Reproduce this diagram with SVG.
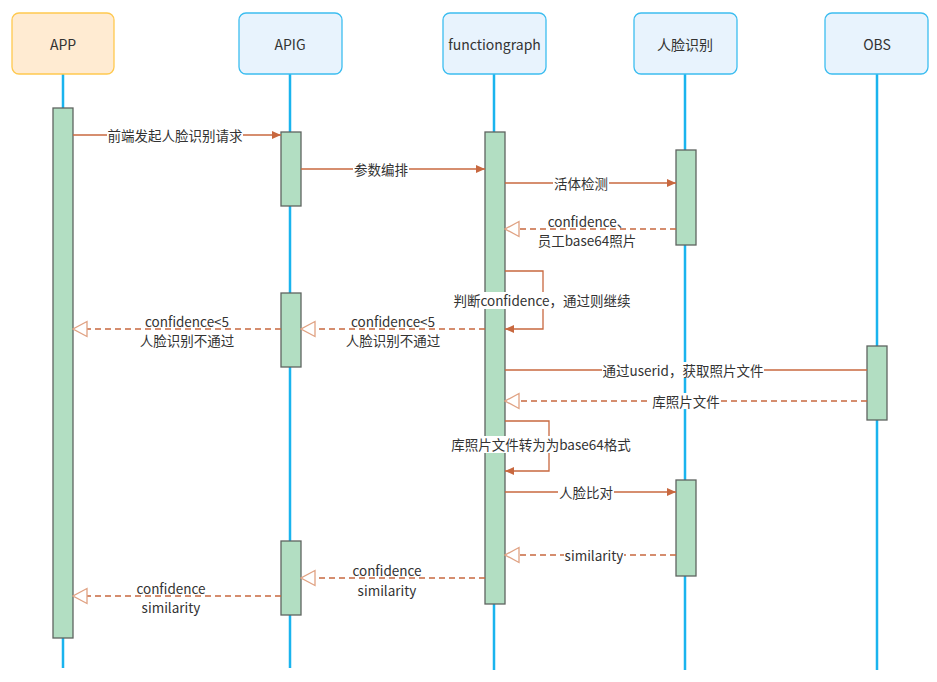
<svg xmlns="http://www.w3.org/2000/svg" width="937" height="682" viewBox="0 0 937 682">
<style>
text{font-family:"Noto Sans CJK SC","Noto Sans",sans-serif;font-size:13.5px;fill:#333;text-anchor:middle;dominant-baseline:central}
.hdr{font-size:14px}
.life{stroke:#1ab4ee;stroke-width:2.5;fill:none}
.act{fill:#b2dec2;stroke:#5f6460;stroke-width:1.3}
.msg{stroke:#c8683f;stroke-width:1.3;fill:none}
.ret{stroke:#c8683f;stroke-width:1.3;fill:none;stroke-dasharray:6 4}
.bg{fill:#fff}
</style>
<defs>
<marker id="fa" markerUnits="userSpaceOnUse" markerWidth="10" markerHeight="10" refX="9" refY="5" orient="auto"><path d="M0,1 L9,5 L0,9 z" fill="#c8683f"/></marker>
<marker id="oa" markerUnits="userSpaceOnUse" markerWidth="16" markerHeight="18" refX="15" refY="9" orient="auto"><path d="M1,1.5 L15,9 L1,16.5 z" fill="#fff" stroke="#e0a283" stroke-width="1.3"/></marker>
</defs>
<g id="lifelines">
<line class="life" x1="63" y1="74" x2="63" y2="668"/>
<line class="life" x1="290" y1="74" x2="290" y2="668"/>
<line class="life" x1="494" y1="74" x2="494" y2="670"/>
<line class="life" x1="685" y1="74" x2="685" y2="670"/>
<line class="life" x1="877" y1="74" x2="877" y2="670"/>
</g>
<g id="APP"><rect x="12" y="13" width="102" height="61" rx="7" fill="#ffebd2" stroke="#ffc94f" stroke-width="1.3"/><text class="hdr" x="63" y="44">APP</text></g>
<g id="APIG"><rect x="239" y="13" width="103" height="61" rx="7" fill="#e8f3fd" stroke="#3cbdf0" stroke-width="1.3"/><text class="hdr" x="290" y="44">APIG</text></g>
<g id="functiongraph"><rect x="443" y="13" width="103" height="61" rx="7" fill="#e8f3fd" stroke="#3cbdf0" stroke-width="1.3"/><text class="hdr" x="494.5" y="44">functiongraph</text></g>
<g id="face"><rect x="634" y="13" width="103" height="61" rx="7" fill="#e8f3fd" stroke="#3cbdf0" stroke-width="1.3"/><text class="hdr" x="685" y="44">人脸识别</text></g>
<g id="OBS"><rect x="825" y="13" width="103" height="61" rx="7" fill="#e8f3fd" stroke="#3cbdf0" stroke-width="1.3"/><text class="hdr" x="877" y="44">OBS</text></g>
<g id="activations">
<rect class="act" x="53" y="108" width="20" height="530"/>
<rect class="act" x="281" y="132" width="20" height="74"/>
<rect class="act" x="281" y="293" width="20" height="74"/>
<rect class="act" x="281" y="541" width="20" height="74"/>
<rect class="act" x="485" y="132" width="20" height="472"/>
<rect class="act" x="676" y="150" width="20" height="95"/>
<rect class="act" x="676" y="480" width="20" height="96"/>
<rect class="act" x="867" y="346" width="20" height="74"/>
</g>
<g id="connectors">
<line class="msg" x1="73" y1="135" x2="281" y2="135" marker-end="url(#fa)"/>
<rect class="bg" x="107" y="127" width="136" height="16"/><text x="175" y="135">前端发起人脸识别请求</text>
<line class="msg" x1="301" y1="169" x2="485" y2="169" marker-end="url(#fa)"/>
<rect class="bg" x="353" y="161" width="56" height="16"/><text x="381" y="169">参数编排</text>
<line class="msg" x1="505" y1="183" x2="676" y2="183" marker-end="url(#fa)"/>
<rect class="bg" x="553" y="175" width="56" height="16"/><text x="581" y="183">活体检测</text>
<line class="ret" x1="676" y1="229" x2="505" y2="229" marker-end="url(#oa)"/>
<text x="589" y="221">confidence、</text><text x="587" y="240">员工base64照片</text>
<path class="msg" d="M505,271 H543 V329 H505" marker-end="url(#fa)"/>
<rect class="bg" x="451" y="292" width="182" height="17"/><text x="542" y="300">判断confidence，通过则继续</text>
<line class="ret" x1="485" y1="329" x2="301" y2="329" marker-end="url(#oa)"/>
<text x="393" y="321">confidence&lt;5</text><text x="393" y="340">人脸识别不通过</text>
<line class="ret" x1="281" y1="329" x2="73" y2="329" marker-end="url(#oa)"/>
<text x="187" y="321">confidence&lt;5</text><text x="187" y="340">人脸识别不通过</text>
<line class="msg" x1="505" y1="370" x2="867" y2="370"/>
<rect class="bg" x="602" y="362" width="162" height="16"/><text x="683" y="370">通过userid，获取照片文件</text>
<line class="ret" x1="867" y1="401" x2="505" y2="401" marker-end="url(#oa)"/>
<rect class="bg" x="651" y="393" width="70" height="16"/><text x="686" y="401">库照片文件</text>
<path class="msg" d="M505,421 H549 V471 H505" marker-end="url(#fa)"/>
<rect class="bg" x="445" y="436" width="192" height="17"/><text x="541" y="444">库照片文件转为为base64格式</text>
<line class="msg" x1="505" y1="492" x2="676" y2="492" marker-end="url(#fa)"/>
<rect class="bg" x="558" y="484" width="56" height="16"/><text x="586" y="492">人脸比对</text>
<line class="ret" x1="676" y1="555" x2="505" y2="555" marker-end="url(#oa)"/>
<rect class="bg" x="564" y="547" width="60" height="16"/><text x="594" y="555">similarity</text>
<line class="ret" x1="485" y1="578" x2="301" y2="578" marker-end="url(#oa)"/>
<text x="387" y="570">confidence</text><text x="387" y="590">similarity</text>
<line class="ret" x1="281" y1="596" x2="73" y2="596" marker-end="url(#oa)"/>
<text x="171" y="588">confidence</text><text x="171" y="607">similarity</text>
</g>
</svg>
